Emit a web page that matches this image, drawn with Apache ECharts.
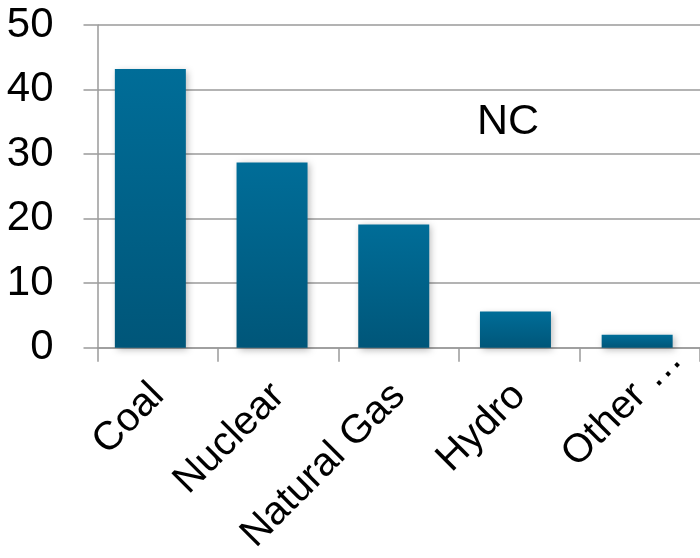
<!DOCTYPE html>
<html>
<head>
<meta charset="utf-8">
<script src="https://cdn.jsdelivr.net/npm/echarts@6/dist/echarts.min.js"></script>
<style>
  html, body { margin: 0; padding: 0; background: #fff; }
  #chart { width: 700px; height: 558px; }
</style>
</head>
<body>
<div id="chart"></div>
<script>
// Electricity generation share by source, North Carolina
const categories = ['Coal', 'Nuclear', 'Natural Gas', 'Hydro', 'Other …'];
const shares = [43.2, 28.7, 19.1, 5.6, 2.0];
const yTicks = { min: 0, max: 50, interval: 10 };
const chartLabel = 'NC';

const font = '"Liberation Sans", Arial, sans-serif';
const axisGray = '#9a9a9a';

// The truncated last category hangs its ellipsis past the tick anchor,
// so it is drawn in a fixed-width rich box that only holds "Other".
const categoryData = categories.map(function (name) {
  return name.indexOf('…') >= 0 ? { value: name, textStyle: {} } : name;
});

const chart = echarts.init(document.getElementById('chart'), null, { renderer: 'canvas' });

chart.setOption({
  animation: false,
  backgroundColor: '#fff',
  title: {
    text: chartLabel,
    left: 472,
    top: 96,
    textStyle: { fontFamily: font, fontSize: 43, fontWeight: 'normal', color: '#000' }
  },
  grid: [
    // axes, gridlines and category labels
    { left: 97.5, top: 25, width: 607.5, bottom: 210.3, containLabel: false },
    // bars
    { left: 89.5, top: 25, width: 608.5, bottom: 210.3, containLabel: false }
  ],
  xAxis: [
    {
      gridIndex: 0,
      type: 'category',
      data: categoryData,
      boundaryGap: true,
      axisLine: { show: true, lineStyle: { color: axisGray, width: 1.5 } },
      axisTick: { show: true, length: 14, lineStyle: { color: axisGray, width: 1.5 } },
      axisLabel: {
        interval: 0,
        rotate: 45,
        margin: 42,
        fontFamily: font,
        fontSize: 40,
        color: '#000',
        formatter: function (value) {
          return value.indexOf('…') >= 0 ? '{trunc|' + value + '}' : value;
        },
        rich: {
          trunc: { width: 100, align: 'left', fontFamily: font, fontSize: 40, color: '#000' }
        }
      },
      z: 1
    },
    {
      gridIndex: 1,
      type: 'category',
      data: categories,
      boundaryGap: true,
      show: false
    }
  ],
  yAxis: [
    {
      gridIndex: 0,
      type: 'value',
      min: yTicks.min,
      max: yTicks.max,
      interval: yTicks.interval,
      axisLine: { show: true, lineStyle: { color: axisGray, width: 1.5 } },
      axisTick: { show: true, length: 14, lineStyle: { color: axisGray, width: 1.5 } },
      axisLabel: {
        margin: 44,
        fontFamily: font,
        fontSize: 42,
        color: '#000'
      },
      splitLine: { show: true, lineStyle: { color: axisGray, width: 1.5 } }
    },
    {
      gridIndex: 1,
      type: 'value',
      min: yTicks.min,
      max: yTicks.max,
      interval: yTicks.interval,
      show: false,
      splitLine: { show: false }
    }
  ],
  series: [
    {
      type: 'bar',
      xAxisIndex: 1,
      yAxisIndex: 1,
      data: shares,
      barWidth: 71,
      z: 3,
      itemStyle: {
        color: new echarts.graphic.LinearGradient(0, 0, 0, 1, [
          { offset: 0, color: '#006d98' },
          { offset: 1, color: '#005679' }
        ]),
        shadowBlur: 7,
        shadowColor: 'rgba(0,0,0,0.28)',
        shadowOffsetX: 2,
        shadowOffsetY: 2
      }
    }
  ]
});
</script>
</body>
</html>
